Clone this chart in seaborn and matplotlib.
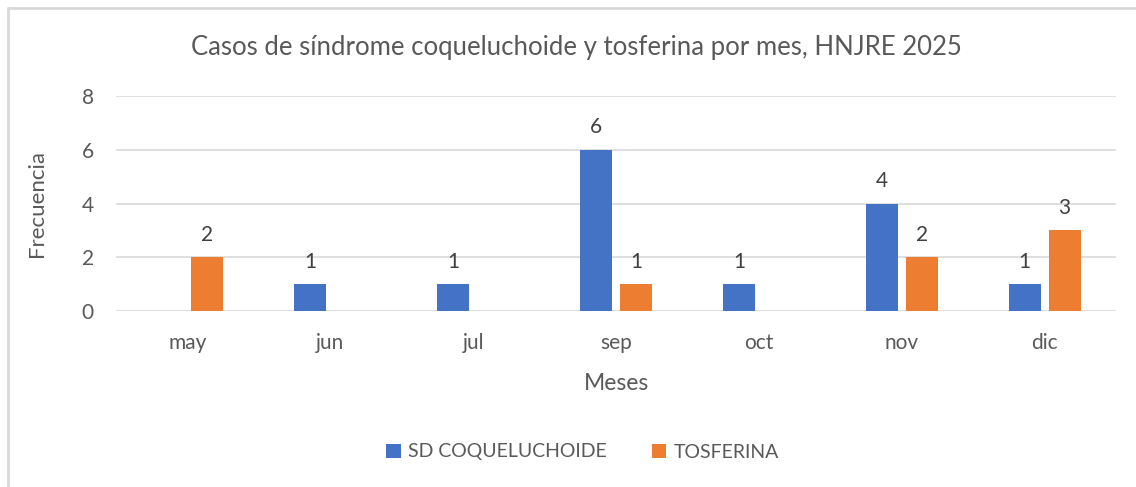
import matplotlib
matplotlib.use("Agg")
import matplotlib.pyplot as plt
from matplotlib.lines import Line2D
from matplotlib.patches import Patch
import numpy as np
import pandas as pd
import seaborn as sns

months = ["may", "jun", "jul", "sep", "oct", "nov", "dic"]
sd_coqueluchoide = [np.nan, 1, 1, 6, 1, 4, 1]
tosferina = [2, np.nan, np.nan, 1, np.nan, 2, 3]
series_names = ["SD COQUELUCHOIDE", "TOSFERINA"]
colors = ["#4472C4", "#ED7D31"]
title = "Casos de síndrome coqueluchoide y tosferina por mes, HNJRE 2025"
y_ticks = [0, 2, 4, 6, 8]

df = pd.DataFrame({
    "Mes": months * 2,
    "Serie": [series_names[0]] * len(months) + [series_names[1]] * len(months),
    "Valor": sd_coqueluchoide + tosferina,
})

sns.set_theme(style="white")
plt.rcParams["font.family"] = ["Lato", "DejaVu Sans"]
txt = "#595959"

fig = plt.figure(figsize=(11.36, 4.87), dpi=100)
ax = fig.add_axes([116/1136, 1-311/487, 1000/1136, 215/487])

sns.barplot(data=df, x="Mes", y="Valor", hue="Serie", order=months,
            hue_order=series_names, palette=colors, width=0.56, gap=0.2,
            errorbar=None, ax=ax, legend=False, saturation=1, linewidth=0)

for cont in ax.containers:
    labels = ["" if (v is None or np.isnan(v)) else f"{v:g}" for v in cont.datavalues]
    ax.bar_label(cont, labels=labels, padding=9, fontsize=15, color="#404040")

ax.set_ylim(0, 8)
ax.set_xlim(-0.5, len(months) - 0.5)
ax.set_yticks(y_ticks)
ax.yaxis.grid(True, color="#d9d9d9", linewidth=1.2)
ax.set_axisbelow(True)
for s in ax.spines.values():
    s.set_visible(False)
ax.tick_params(axis="both", length=0, labelsize=15, labelcolor=txt)
ax.tick_params(axis="x", pad=16)
ax.tick_params(axis="y", pad=16)
ax.set_xlabel("Meses", fontsize=16.5, color=txt, labelpad=14)
ax.set_ylabel("Frecuencia", fontsize=16, color=txt, labelpad=25)

fig.text(576/1136, 1 - 47/487, title, ha="center", va="center", fontsize=18.5, color=txt)

handles = [Patch(facecolor=c, edgecolor="none") for c in colors]
fig.legend(handles, series_names, loc="center", bbox_to_anchor=(0.513, 1 - 452/487),
           ncol=2, frameon=False, fontsize=14, labelcolor=txt, handlelength=0.75,
           handleheight=0.75, handletextpad=0.4, columnspacing=2.3)

# chart border (left and top visible)
fig.add_artist(Line2D([8/1136, 8/1136], [0, 1 - 8/487], transform=fig.transFigure,
                      color="#d9d9d9", linewidth=2))
fig.add_artist(Line2D([8/1136, 1], [1 - 8/487, 1 - 8/487], transform=fig.transFigure,
                      color="#d9d9d9", linewidth=2))

fig.savefig("out.png", dpi=100)
